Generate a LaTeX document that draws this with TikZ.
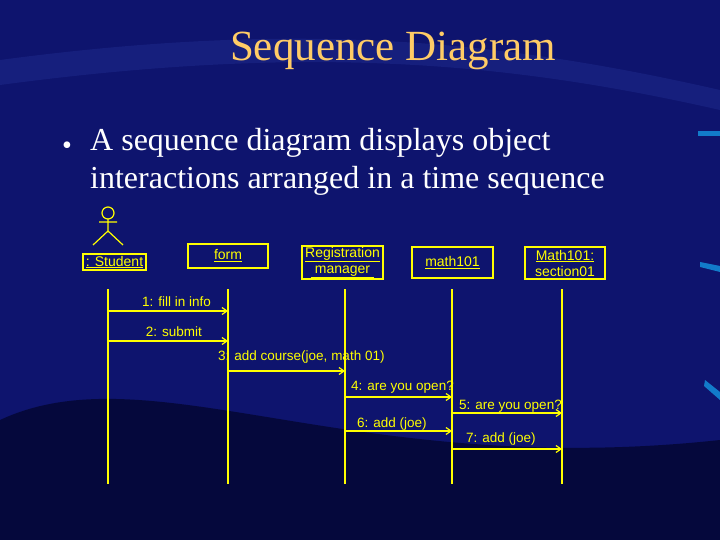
\documentclass[tikz,border=0pt]{standalone}
\usepackage{fontspec}
\setmainfont{Liberation Serif}
\newfontfamily\arial{Liberation Sans}
\usetikzlibrary{arrows.meta}
\definecolor{bgA}{RGB}{14,20,110}
\definecolor{bgB}{RGB}{5,8,60}
\definecolor{ttl}{RGB}{255,204,102}
\definecolor{yel}{RGB}{255,255,0}
\definecolor{band}{RGB}{30,42,140}
\tikzset{
 obj/.style={draw=yel,line width=1.2pt,font=\arial\fontsize{14}{16}\selectfont,text=yel,align=center,inner sep=0pt},
 life/.style={yel,line width=1.2pt},
 msg/.style={yel,line width=1.2pt,-{Straight Barb[length=5pt,width=7pt]}},
 lbl/.style={text=yel,font=\arial\fontsize{13.5}{13}\selectfont,inner sep=1pt}
}
\begin{document}
\begin{tikzpicture}[x=1pt,y=-1pt]
\useasboundingbox (0,0) rectangle (720,540);
\fill[bgA] (0,0) rectangle (720,540);
\fill[band,opacity=0.5] (0,60) .. controls (300,20) and (500,40) .. (720,90) -- (720,110) .. controls (500,60) and (300,45) .. (0,85) -- cycle;
\fill[bgB] (0,420) .. controls (150,350) and (350,480) .. (720,440) -- (720,540) -- (0,540) -- cycle;
\fill[bgB,opacity=0.6] (0,470) .. controls (200,400) and (400,500) .. (720,470) -- (720,540) -- (0,540) -- cycle;
\fill[cyan!60!blue] (698,131) rectangle (720,136);
\fill[cyan!60!blue] (700,262) -- (720,266) -- (720,272) -- (700,267) -- cycle;
\fill[cyan!60!blue] (705,380) -- (720,392) -- (720,400) -- (704,386) -- cycle;
\node[text=ttl,font=\fontsize{43}{43}\selectfont] (title) at (393,51) {Sequence Diagram};
\node[text=white,font=\fontsize{28}{28}\selectfont] (bul) at (67,148) {\textbullet};
\node[text=white,font=\fontsize{32}{38}\selectfont,anchor=north west,align=left,inner sep=0pt] (txt) at (90,128) {A sequence diagram displays object\\interactions arranged in a time sequence};
% actor
\draw[yel,line width=1.2pt] (108,213) circle (6);
\draw[yel,line width=1.2pt] (108,219) -- (108,231) (99,222) -- (117,222) (93,245) -- (108,231) -- (123,245);
\node[obj,minimum width=63pt,minimum height=16pt] (s) at (114.5,262) {\underline{: Student}};
\node[obj,minimum width=80pt,minimum height=24pt] (f) at (228,256) {\underline{form}};
\node[obj,minimum width=81pt,minimum height=33pt] (r) at (342.5,262.5) {\underline{Registration}\\\underline{\ manager\ }};
\node[obj,minimum width=81pt,minimum height=31pt] (m) at (452.5,262.5) {\underline{math101}};
\node[obj,minimum width=80pt,minimum height=32pt] (c) at (565,263) {\underline{Math101:}\\section01};
\foreach \n/\x in {s/108,f/228,r/345,m/452,c/562}{
 \coordinate (\n t) at (\x,289); \coordinate (\n b) at (\x,484);
 \draw[life] (\n t) -- (\n b);}
\foreach \i/\a/\b/\y in {1/s/f/311,2/s/f/341,3/f/r/371,4/r/m/397,5/m/c/413,6/r/m/431,7/m/c/449}{
 \coordinate (a\i) at (\a t |- 0,\y); \coordinate (b\i) at (\b t |- 0,\y);
 \draw[msg] (a\i) -- (b\i);}
\node[lbl,anchor=south east] (l1) at (212,308) {1: fill in info};
\node[lbl,anchor=south east] (l2) at (203,338) {2: submit};
\node[lbl,anchor=south west] (l3) at (217,365) {3: add course(joe, math 01)};
\node[lbl,anchor=south west] (l4) at (350,394) {4: are you open?};
\node[lbl,anchor=south west] (l5) at (458,413) {5: are you open?};
\node[lbl,anchor=south west] (l6) at (356,431) {6: add (joe)};
\node[lbl,anchor=south west] (l7) at (465,446) {7: add (joe)};
\end{tikzpicture}
\end{document}
